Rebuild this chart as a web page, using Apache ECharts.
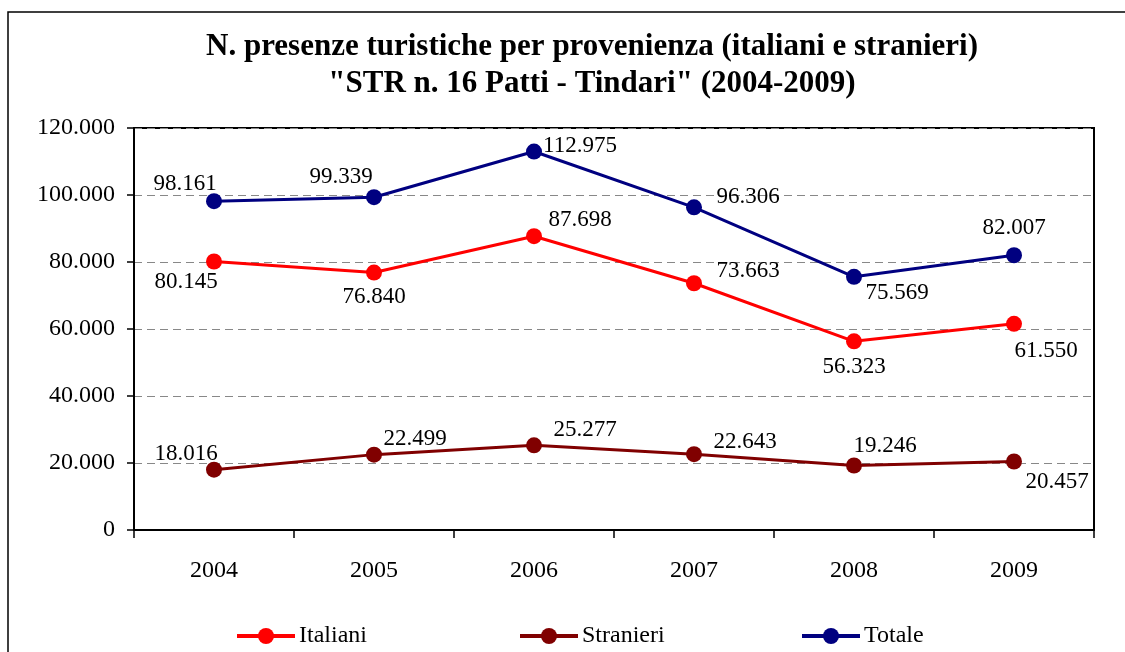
<!DOCTYPE html>
<html>
<head>
<meta charset="utf-8">
<script src="https://cdn.jsdelivr.net/npm/echarts@6/dist/echarts.min.js"></script>
<style>
  html, body { margin: 0; padding: 0; background: #fff; }
  #chart { width: 1125px; height: 652px; }
</style>
</head>
<body>
<div id="chart"></div>
<script>
var years = ['2004', '2005', '2006', '2007', '2008', '2009'];
var italiani = [80145, 76840, 87698, 73663, 56323, 61550];
var stranieri = [18016, 22499, 25277, 22643, 19246, 20457];
var totale = [98161, 99339, 112975, 96306, 75569, 82007];

var font = 'Liberation Serif';

function fmt(v) {
    return String(v).replace(/\B(?=(\d{3})+(?!\d))/g, '.');
}

// label placement per point, offset from the marker centre
var offItaliani = [[-28, 20], [0, 24], [46, -16], [54, -12], [0, 26], [32, 27]];
var offStranieri = [[-28, -16], [41, -16], [51, -15], [51, -12], [31, -20], [43, 20]];
var offTotale = [[-29, -17], [-33, -20], [46, -6], [54, -10], [43, 16], [0, -27]];

function points(values, offsets) {
    return values.map(function(v, i) {
        return { value: v, label: { offset: offsets[i] } };
    });
}

function lineSeries(name, values, offsets, color) {
    return {
        name: name,
        type: 'line',
        data: points(values, offsets),
        symbol: 'circle',
        symbolSize: 16,
        lineStyle: { color: color, width: 3 },
        itemStyle: { color: color },
        label: {
            show: true, position: 'inside', align: 'center', verticalAlign: 'middle',
            color: '#000', fontFamily: font, fontSize: 23,
            formatter: function(p) { return fmt(p.value); }
        },
        emphasis: { disabled: true }
    };
}

function legendAt(name, left) {
    return {
        data: [name], left: left, top: 624, padding: 0,
        itemWidth: 58, itemHeight: 20, itemGap: 0,
        lineStyle: { width: 4 },
        textStyle: { color: '#000', fontFamily: font, fontSize: 24, padding: [0, 0, 0, -1] }
    };
}

var chart = echarts.init(document.getElementById('chart'));
chart.setOption({
    animation: false,
    backgroundColor: '#fff',
    title: {
        text: 'N. presenze turistiche per provenienza (italiani e stranieri)\n"STR n. 16 Patti - Tindari" (2004-2009)',
        left: 587, top: 23, textAlign: 'center',
        textStyle: { fontFamily: font, fontWeight: 'bold', fontSize: 31, lineHeight: 37, color: '#000' }
    },
    graphic: [{
        type: 'rect', silent: true,
        shape: { x: 8, y: 12, width: 1300, height: 800 },
        style: { fill: 'none', stroke: '#000', lineWidth: 1.5 }
    }],
    legend: [
        legendAt('Italiani', 235),
        legendAt('Stranieri', 518),
        legendAt('Totale', 800)
    ],
    grid: {
        left: 134, right: 31, top: 128, bottom: 122,
        show: true, borderColor: '#000', borderWidth: 2, backgroundColor: 'transparent'
    },
    xAxis: {
        type: 'category', data: years, boundaryGap: true,
        axisLine: { lineStyle: { color: '#000', width: 2 } },
        axisTick: { show: true, length: 8, alignWithLabel: false, lineStyle: { color: '#000', width: 1.5 } },
        axisLabel: { color: '#000', fontFamily: font, fontSize: 24, margin: 29 },
        splitLine: { show: false }
    },
    yAxis: {
        type: 'value', min: 0, max: 120000, interval: 20000,
        axisLine: { show: true, lineStyle: { color: '#000', width: 2 } },
        axisTick: { show: true, length: 7, lineStyle: { color: '#000', width: 1.5 } },
        axisLabel: { color: '#000', fontFamily: font, fontSize: 24, margin: 19, formatter: fmt },
        splitLine: { lineStyle: { color: '#888', type: [8, 5], width: 1 } }
    },
    series: [
        lineSeries('Italiani', italiani, offItaliani, '#ff0000'),
        lineSeries('Stranieri', stranieri, offStranieri, '#800000'),
        lineSeries('Totale', totale, offTotale, '#000080')
    ]
});
</script>
</body>
</html>
